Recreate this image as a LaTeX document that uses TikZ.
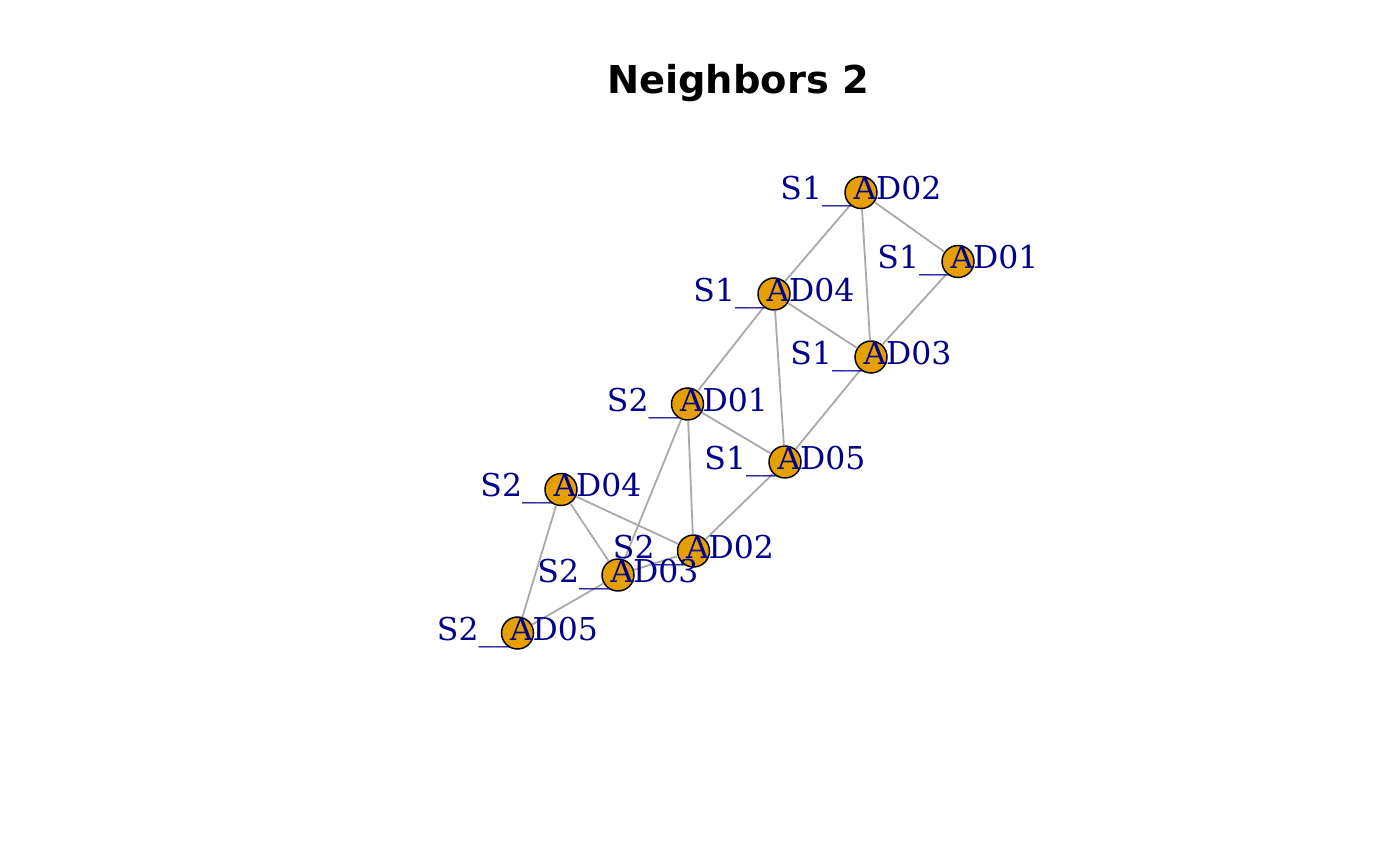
\documentclass[tikz,border=0pt]{standalone}
\usepackage{fontspec}
\newfontfamily\lblfont{DejaVu Serif}
\newfontfamily\ttlfont{DejaVu Sans}
\definecolor{nodeorange}{HTML}{E69F00}
\definecolor{edgegray}{HTML}{A9A9A9}
\definecolor{lblblue}{HTML}{00008B}
\begin{document}
\begin{tikzpicture}[x=0.75pt,y=-0.75pt,
  vtx/.style={circle,draw=black,fill=nodeorange,minimum size=24pt,inner sep=0pt,line width=1.1pt},
  lbl/.style={text=lblblue,font=\lblfont\fontsize{23.6}{24}\selectfont,inner sep=0pt,anchor=base},
  edge/.style={draw=edgegray,line width=1.35pt}]
\useasboundingbox[fill=white] (0,0) rectangle (1400,865);
\node[font=\ttlfont\bfseries\fontsize{28.8}{30}\selectfont,anchor=base,inner sep=0pt] (title) at (738,93) {Neighbors 2};
% vertices
\node[vtx] (a12) at (861,192.5) {};
\node[vtx] (a11) at (958,261.5) {};
\node[vtx] (a14) at (774,294) {};
\node[vtx] (a13) at (871,357) {};
\node[vtx] (a21) at (687.5,404) {};
\node[vtx] (a15) at (785,462) {};
\node[vtx] (a24) at (561,489.5) {};
\node[vtx] (a22) at (693.5,551) {};
\node[vtx] (a23) at (618,575) {};
\node[vtx] (a25) at (517.5,633) {};
% edges
\draw[edge] (a12) -- (a11);
\draw[edge] (a12) -- (a14);
\draw[edge] (a12) -- (a13);
\draw[edge] (a11) -- (a13);
\draw[edge] (a14) -- (a13);
\draw[edge] (a14) -- (a21);
\draw[edge] (a14) -- (a15);
\draw[edge] (a13) -- (a15);
\draw[edge] (a21) -- (a15);
\draw[edge] (a21) -- (a22);
\draw[edge] (a21) -- (a23);
\draw[edge] (a15) -- (a22);
\draw[edge] (a24) -- (a22);
\draw[edge] (a24) -- (a23);
\draw[edge] (a24) -- (a25);
\draw[edge] (a25) -- (a23);
\draw[edge] (a23) -- (a22);
% labels
\node[lbl] (l12) at ([yshift=-5.6pt]a12.center) {S1\_\_AD02};
\node[lbl] (l11) at ([yshift=-5.6pt]a11.center) {S1\_\_AD01};
\node[lbl] (l14) at ([yshift=-5.6pt]a14.center) {S1\_\_AD04};
\node[lbl] (l13) at ([yshift=-5.6pt]a13.center) {S1\_\_AD03};
\node[lbl] (l21) at ([yshift=-5.6pt]a21.center) {S2\_\_AD01};
\node[lbl] (l15) at ([yshift=-5.6pt]a15.center) {S1\_\_AD05};
\node[lbl] (l24) at ([yshift=-5.6pt]a24.center) {S2\_\_AD04};
\node[lbl] (l22) at ([yshift=-5.6pt]a22.center) {S2\_\_AD02};
\node[lbl] (l23) at ([yshift=-5.6pt]a23.center) {S2\_\_AD03};
\node[lbl] (l25) at ([yshift=-5.6pt]a25.center) {S2\_\_AD05};
\end{tikzpicture}
\end{document}
